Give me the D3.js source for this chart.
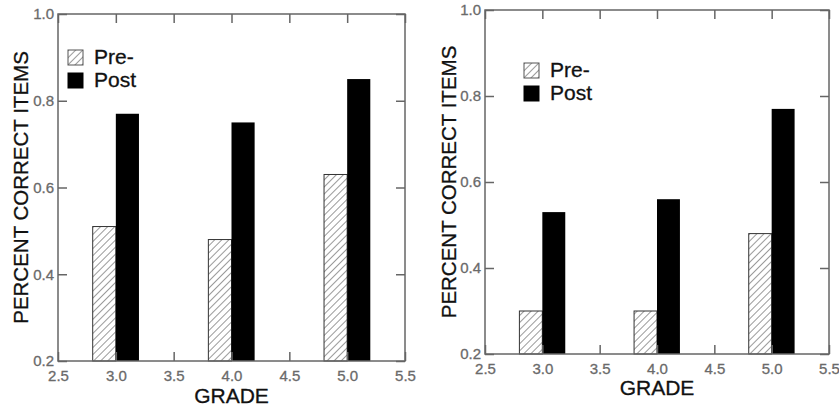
<!DOCTYPE html>
<html>
<head>
<meta charset="utf-8">
<script src="https://cdn.jsdelivr.net/npm/d3@7"></script>
<style>
  body { margin: 0; background: #fff; }
  svg { display: block; font-family: "Liberation Sans", Arial, sans-serif; }
</style>
</head>
<body>
<div class="chart"></div>
<script>
// data
var grades = [3.0, 4.0, 5.0];
var preLeft = [0.51, 0.48, 0.63];
var postLeft = [0.77, 0.75, 0.85];
var preRight = [0.30, 0.30, 0.48];
var postRight = [0.53, 0.56, 0.77];
var xTicks = [2.5, 3.0, 3.5, 4.0, 4.5, 5.0, 5.5];
var yTicks = [0.2, 0.4, 0.6, 0.8, 1.0];
var legendLabels = ['Pre-', 'Post'];

var barWidth = 0.2;
var tickLen = 9;
var frameColor = '#666';
var labelColor = '#6a6a6a';
var fmt = d3.format('.1f');

var svg = d3.select('.chart').append('svg')
    .attr('width', 839)
    .attr('height', 410);

svg.append('rect').attr('width', 839).attr('height', 410).attr('fill', '#fff');

svg.append('defs').append('pattern')
    .attr('id', 'hatch')
    .attr('patternUnits', 'userSpaceOnUse')
    .attr('width', 5)
    .attr('height', 5)
    .attr('patternTransform', 'rotate(45)')
    .call(p => {
        p.append('rect').attr('width', 5).attr('height', 5).attr('fill', '#fff');
        p.append('line').attr('x1', 0).attr('y1', 0).attr('x2', 0).attr('y2', 5)
            .attr('stroke', '#555').attr('stroke-width', 1.2);
    });

function styleAxis(el, labels) {
    el.select('.domain').remove();
    el.selectAll('line').attr('stroke', frameColor).attr('stroke-width', 1.5);
    if (!labels) {
        el.selectAll('text').remove();
    } else {
        el.selectAll('text')
            .attr('fill', labelColor)
            .attr('font-size', 15)
            .attr('font-family', '"Liberation Sans", Arial, sans-serif')
            .attr('stroke', labelColor)
            .attr('stroke-width', 0.3);
    }
}

function drawPanel(p) {
    var g = svg.append('g').attr('transform', `translate(${p.left},${p.top})`);
    var w = p.width, h = p.height;

    var x = d3.scaleLinear().domain([2.5, 5.5]).range([0, w]);
    var y = d3.scaleLinear().domain([0.2, 1.0]).range([h, 0]);

    // bars
    var data = grades.map((d, i) => ({grade: d, pre: p.pre[i], post: p.post[i]}));
    g.selectAll('.pre').data(data).enter().append('rect')
        .attr('class', 'pre')
        .attr('x', d => x(d.grade - barWidth))
        .attr('width', d => x(d.grade) - x(d.grade - barWidth))
        .attr('y', d => y(d.pre))
        .attr('height', d => h - y(d.pre))
        .attr('fill', 'url(#hatch)')
        .attr('stroke', '#333')
        .attr('stroke-width', 1);
    g.selectAll('.post').data(data).enter().append('rect')
        .attr('class', 'post')
        .attr('x', d => x(d.grade))
        .attr('width', d => x(d.grade + barWidth) - x(d.grade))
        .attr('y', d => y(d.post))
        .attr('height', d => h - y(d.post))
        .attr('fill', '#000');

    // axes, ticks pointing inward on all four sides
    g.append('g').attr('transform', `translate(0,${h})`)
        .call(d3.axisBottom(x).tickValues(xTicks).tickFormat(fmt).tickSize(-tickLen).tickSizeOuter(0).tickPadding(9))
        .call(el => styleAxis(el, true));
    g.append('g')
        .call(d3.axisTop(x).tickValues(xTicks).tickSize(-tickLen).tickSizeOuter(0))
        .call(el => styleAxis(el, false));
    g.append('g')
        .call(d3.axisLeft(y).tickValues(yTicks).tickFormat(fmt).tickSize(-tickLen).tickSizeOuter(0).tickPadding(4))
        .call(el => styleAxis(el, true));
    g.append('g').attr('transform', `translate(${w},0)`)
        .call(d3.axisRight(y).tickValues(yTicks).tickSize(-tickLen).tickSizeOuter(0))
        .call(el => styleAxis(el, false));

    // frame
    g.append('rect')
        .attr('width', w).attr('height', h)
        .attr('fill', 'none')
        .attr('stroke', frameColor)
        .attr('stroke-width', 1.5);

    // axis titles
    g.append('text')
        .attr('x', w / 2)
        .attr('y', h + p.xTitleDy)
        .attr('text-anchor', 'middle')
        .attr('font-size', 21)
        .attr('fill', '#111')
        .attr('stroke', '#111').attr('stroke-width', 0.3)
        .text('GRADE');
    g.append('text')
        .attr('transform', `translate(${p.yTitleDx},${h / 2}) rotate(-90)`)
        .attr('text-anchor', 'middle')
        .attr('font-size', 20.5)
        .attr('fill', '#111')
        .attr('stroke', '#111').attr('stroke-width', 0.3)
        .text('PERCENT CORRECT ITEMS');

    // legend
    var leg = g.append('g').attr('transform', `translate(${p.legX},${p.legY})`);
    legendLabels.forEach((lab, i) => {
        var row = leg.append('g').attr('transform', `translate(0,${i * 23})`);
        row.append('rect')
            .attr('width', 15).attr('height', 15)
            .attr('fill', i === 0 ? 'url(#hatch)' : '#000')
            .attr('stroke', i === 0 ? '#555' : '#000')
            .attr('stroke-width', 1);
        row.append('text')
            .attr('x', 26).attr('y', 14)
            .attr('font-size', 21)
            .attr('fill', '#111')
            .attr('stroke', '#111').attr('stroke-width', 0.3)
            .text(lab);
    });
}

var panels = [
    {left: 58, top: 14, width: 347, height: 347, pre: preLeft, post: postLeft,
     legX: 10, legY: 36, xTitleDy: 42, yTitleDx: -30},
    {left: 485, top: 10, width: 344, height: 344, pre: preRight, post: postRight,
     legX: 39, legY: 53, xTitleDy: 41, yTitleDx: -29}
];

panels.forEach(drawPanel);
</script>
</body>
</html>
